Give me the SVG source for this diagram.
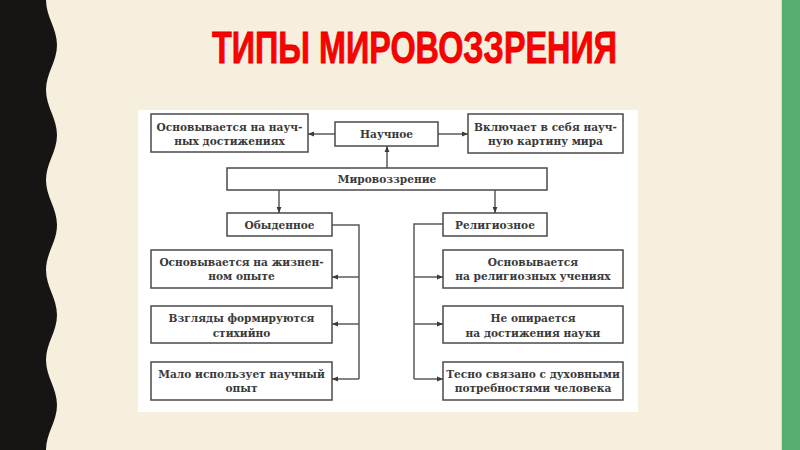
<svg xmlns="http://www.w3.org/2000/svg" width="800" height="450" viewBox="0 0 800 450">
<defs>
<marker id="arr" viewBox="0 0 10 10" refX="10" refY="5" markerWidth="6" markerHeight="6" markerUnits="userSpaceOnUse" orient="auto">
<path d="M0,1 L10,5 L0,9 Z" fill="#3a3a3a"/>
</marker>
<style>
.box{fill:#ffffff;stroke:#4a4a4a;stroke-width:1.5}
.t{font-family:"DejaVu Serif","Liberation Serif",serif;font-weight:bold;font-size:10.6px;fill:#3a3a3a;text-anchor:middle}
.c{fill:none;stroke:#5a5a5a;stroke-width:1.5}
.a{fill:none;stroke:#5a5a5a;stroke-width:1.5;marker-end:url(#arr)}
</style>
</defs>
<rect x="0" y="0" width="800" height="450" fill="#F7EFDE"/>
<path d="M0,0 H46 C46,17 57,28 57,45 C57,62 46,73 46,90 C46,107 57,118 57,135 C57,152 46,163 46,180 C46,197 57,208 57,225 C57,242 46,253 46,270 C46,287 57,298 57,315 C57,332 46,343 46,360 C46,377 57,388 57,405 C57,422 46,433 46,450 H0 Z" fill="#171414"/>
<rect x="781" y="0" width="1" height="450" fill="#cfe3c9"/>
<rect x="782" y="0" width="18" height="450" fill="#56AD6E"/>
<text x="414.5" y="63" font-family="Liberation Sans, Arial, sans-serif" font-weight="bold" font-size="44" fill="#FF0000" stroke="#D80000" stroke-width="0.8" text-anchor="middle" textLength="405" lengthAdjust="spacingAndGlyphs">ТИПЫ МИРОВОЗЗРЕНИЯ</text>
<rect x="138" y="110" width="500" height="302" fill="#ffffff"/>
<g id="connectors">
<line class="a" x1="335" y1="134" x2="308" y2="134"/>
<line class="a" x1="438" y1="134" x2="468" y2="134"/>
<line class="a" x1="387" y1="168" x2="387" y2="146"/>
<line class="a" x1="279" y1="190" x2="279" y2="213"/>
<line class="a" x1="495" y1="190" x2="495" y2="213"/>
<path class="c" d="M332,225 H359 V379"/>
<line class="a" x1="359" y1="277" x2="332" y2="277"/>
<line class="a" x1="359" y1="324" x2="332" y2="324"/>
<line class="a" x1="359" y1="379" x2="332" y2="379"/>
<path class="c" d="M443,224 H414 V379"/>
<line class="a" x1="414" y1="277" x2="443" y2="277"/>
<line class="a" x1="414" y1="324" x2="443" y2="324"/>
<line class="a" x1="414" y1="379" x2="443" y2="379"/>
</g>
<g id="n-sci-basis">
<rect class="box" x="151" y="114" width="157" height="38"/>
<text class="t" x="229.5" y="131">Основывается на науч-</text>
<text class="t" x="229.5" y="145">ных достижениях</text>
</g>
<g id="n-sci">
<rect class="box" x="335" y="122" width="103" height="24"/>
<text class="t" x="386.5" y="138">Научное</text>
</g>
<g id="n-sci-incl">
<rect class="box" x="468" y="114" width="155" height="39"/>
<text class="t" x="545.5" y="131">Включает в себя науч-</text>
<text class="t" x="545.5" y="145">ную картину мира</text>
</g>
<g id="n-world">
<rect class="box" x="227" y="168" width="320" height="22"/>
<text class="t" x="387" y="183">Мировоззрение</text>
</g>
<g id="n-ord">
<rect class="box" x="227" y="213" width="105" height="23"/>
<text class="t" x="279.5" y="229">Обыденное</text>
</g>
<g id="n-rel">
<rect class="box" x="443" y="213" width="104" height="23"/>
<text class="t" x="495" y="229">Религиозное</text>
</g>
<g id="n-ord-1">
<rect class="box" x="151" y="250" width="181" height="38"/>
<text class="t" x="241.5" y="266">Основывается на жизнен-</text>
<text class="t" x="241.5" y="280">ном опыте</text>
</g>
<g id="n-ord-2">
<rect class="box" x="151" y="306" width="181" height="37"/>
<text class="t" x="241.5" y="322">Взгляды формируются</text>
<text class="t" x="241.5" y="337">стихийно</text>
</g>
<g id="n-ord-3">
<rect class="box" x="151" y="362" width="181" height="38"/>
<text class="t" x="241.5" y="378">Мало использует научный</text>
<text class="t" x="241.5" y="392">опыт</text>
</g>
<g id="n-rel-1">
<rect class="box" x="443" y="250" width="180" height="38"/>
<text class="t" x="533" y="266">Основывается</text>
<text class="t" x="533" y="280">на религиозных учениях</text>
</g>
<g id="n-rel-2">
<rect class="box" x="443" y="306" width="180" height="37"/>
<text class="t" x="533" y="322">Не опирается</text>
<text class="t" x="533" y="337">на достижения науки</text>
</g>
<g id="n-rel-3">
<rect class="box" x="443" y="362" width="180" height="38"/>
<text class="t" x="533" y="378">Тесно связано с духовными</text>
<text class="t" x="533" y="392">потребностями человека</text>
</g>
</svg>
